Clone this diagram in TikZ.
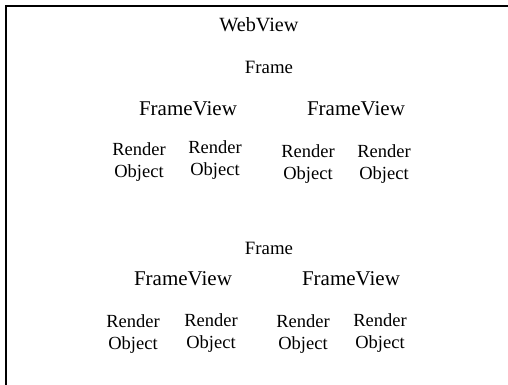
\documentclass[tikz,border=0pt]{standalone}
\usepackage{fontspec}
\setmainfont{Liberation Serif}
\begin{document}
\begin{tikzpicture}[x=1pt,y=-1pt,
  lbl/.style={inner sep=0pt, anchor=base},
  title/.style={lbl, font=\fontsize{20.2}{24}\selectfont},
  framelbl/.style={lbl, font=\fontsize{18.8}{22}\selectfont},
  viewlbl/.style={lbl, font=\fontsize{21}{24}\selectfont},
  renderlbl/.style={lbl, align=center, font=\fontsize{18.5}{21.5}\selectfont}]
\useasboundingbox (0,0) rectangle (508,385);
% open border along the top and left edges
\draw[line width=2pt] (6,385) -- (6,6) -- (508,6);

\node[title] (web) at (259,32) {WebView};

% first frame (render labels placed by the baseline of their last line)
\node[framelbl] (frameA) at (269,74) {Frame};
\node[viewlbl] (viewA1) at (188,115) {FrameView};
\node[viewlbl] (viewA2) at (356,116) {FrameView};
\node[renderlbl] (roA1) at (139,177) {Render\\Object};
\node[renderlbl] (roA2) at (215,175) {Render\\Object};
\node[renderlbl] (roA3) at (308,179) {Render\\Object};
\node[renderlbl] (roA4) at (384,179) {Render\\Object};

% second frame
\node[framelbl] (frameB) at (269,254) {Frame};
\node[viewlbl] (viewB1) at (183,285) {FrameView};
\node[viewlbl] (viewB2) at (351,285) {FrameView};
\node[renderlbl] (roB1) at (133,349) {Render\\Object};
\node[renderlbl] (roB2) at (211,348) {Render\\Object};
\node[renderlbl] (roB3) at (303,349) {Render\\Object};
\node[renderlbl] (roB4) at (380,348) {Render\\Object};
\end{tikzpicture}
\end{document}
